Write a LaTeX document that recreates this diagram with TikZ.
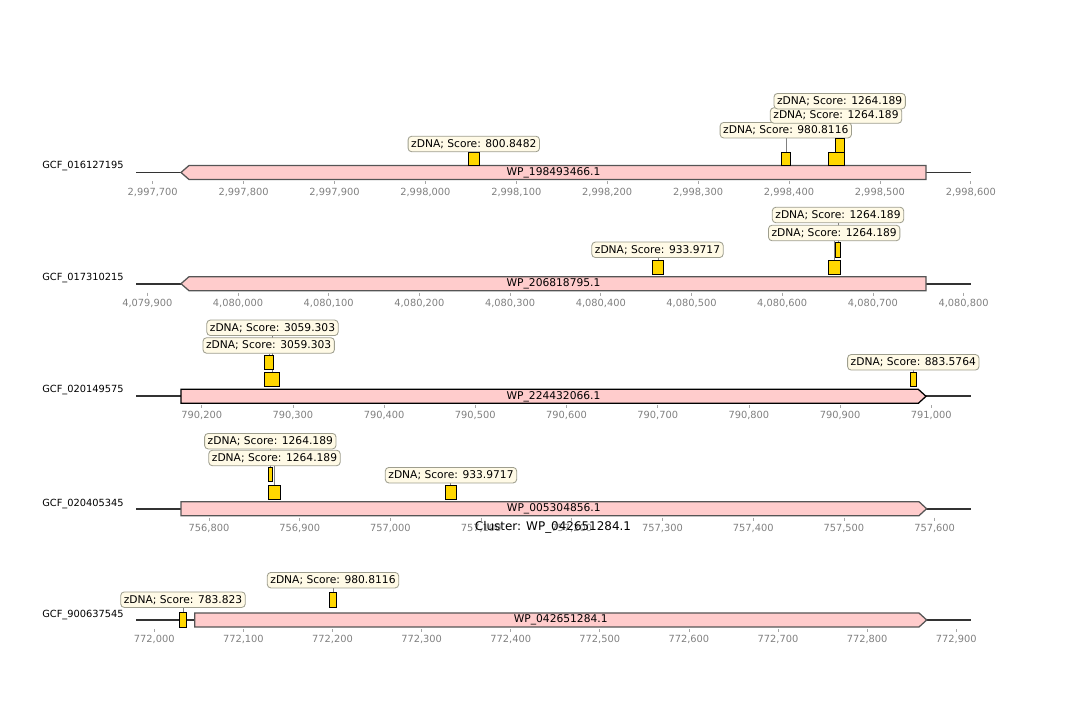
\documentclass[tikz,border=0pt]{standalone}
\usepackage{fontspec}
\setmainfont{DejaVu Sans}
\definecolor{cdsfill}{HTML}{FFCCCC}
\definecolor{cdsedge}{HTML}{555555}
\definecolor{zdnafill}{HTML}{FFD700}
\definecolor{tagfill}{HTML}{FFFAE6}
\definecolor{tagedge}{HTML}{9E9E8E}
\definecolor{axisline}{HTML}{333333}
\definecolor{ticktxt}{HTML}{808080}
\pgfdeclarelayer{bg}
\pgfsetlayers{bg,main}
\tikzset{
  zbox/.style={rectangle, fill=zdnafill, draw=black, line width=0.6pt, inner sep=0pt},
  ztag/.style={rectangle, rounded corners=2.5pt, fill=tagfill, draw=tagedge, line width=0.6pt,
    font=\fontsize{7.6}{9}\selectfont, inner xsep=2.2pt, inner ysep=0pt, minimum height=11pt},
  link/.style={draw=gray, line width=0.4pt},
  cds/.style={fill=cdsfill, draw=#1, line width=0.9pt},
  cdslbl/.style={font=\fontsize{7.6}{9}\selectfont, inner sep=0pt},
  trk/.style={draw=axisline, line width=1.4pt},
  tickmark/.style={draw=ticktxt!70, line width=0.5pt},
  ticklbl/.style={font=\fontsize{7}{8}\selectfont, text=ticktxt, inner sep=0pt},
  seqname/.style={font=\fontsize{7}{8}\selectfont, anchor=west, inner sep=0pt},
}
% gene pointing left: name, tip x, body x, right x, centre y, label
\newcommand{\cdsleft}[7][cdsedge]{
  \draw[cds=#1] (#3,#6) -- (#4,#6-7) -- (#5,#6-7) -- (#5,#6+7) -- (#4,#6+7) -- cycle;
  \node[cdslbl] (#2) at ({(#3+#5)/2},#6) {#7};
}
% gene pointing right: name, left x, body x, tip x, centre y, label
\newcommand{\cdsright}[7][cdsedge]{
  \draw[cds=#1] (#3,#6-7) -- (#4,#6-7) -- (#5,#6) -- (#4,#6+7) -- (#3,#6+7) -- cycle;
  \node[cdslbl] (#2) at ({(#3+#5)/2},#6) {#7};
}
% zDNA feature: name, x1, x2, y1, y2, label x, label y, score
\newcommand{\zdna}[8]{
  \node[zbox, minimum width={(#3-#2)*0.025cm}, minimum height={(#5-#4)*0.025cm}] (#1) at ({(#2+#3)/2},{(#4+#5)/2}) {};
  \node[ztag] (#1l) at (#6,#7) {zDNA; Score: #8};
  \begin{pgfonlayer}{bg}
    \draw[link] (#1.north |- #1l.south) -- (#1.north);
  \end{pgfonlayer}
}
% axis ticks: id, line y, first x, spacing, labels
\newcommand{\axisticks}[5]{
  \foreach \t [count=\i from 0] in {#5} {
    \draw[tickmark] ({#3+\i*#4},#2+9) -- ++(0,3);
    \node[ticklbl] (#1t\i) at ({#3+\i*#4},#2+19.5) {\t};
  }
}

\begin{document}
\begin{tikzpicture}[x=0.025cm, y=-0.025cm]
\useasboundingbox (0,0) rectangle (1080,720);

% ---------------- track 1 ----------------
\draw[trk] (136,172.5) -- (971,172.5);
\node[seqname] (n1) at (42,166.5) {GCF\_016127195};
\cdsleft{g1}{181}{189}{926}{172.5}{WP\_198493466.1}
\zdna{f11}{468.3}{479.3}{152}{165.5}{473.8}{144}{800.8482}
\zdna{f12}{781.3}{790.3}{152}{165.5}{785.8}{130.2}{980.8116}
\zdna{f13}{828}{844}{152}{165.5}{836}{115.5}{1264.189}
\zdna{f14}{835.3}{844}{138}{152}{839.7}{101.2}{1264.189}
\axisticks{a}{172.5}{152.7}{90.9}{{2,997,700},{2,997,800},{2,997,900},{2,998,000},{2,998,100},{2,998,200},{2,998,300},{2,998,400},{2,998,500},{2,998,600}}

% ---------------- track 2 ----------------
\draw[trk] (136,283.7) -- (971,283.7);
\node[seqname] (n2) at (42,278.5) {GCF\_017310215};
\cdsleft{g2}{181}{189}{926}{283.7}{WP\_206818795.1}
\zdna{f21}{652.3}{663.3}{260}{274}{657.5}{249.8}{933.9717}
\zdna{f22}{828.3}{840.3}{260}{274}{834.2}{233}{1264.189}
\zdna{f23}{835.3}{840.3}{242.7}{257}{838}{215}{1264.189}
\axisticks{b}{283.7}{147.3}{90.7}{{4,079,900},{4,080,000},{4,080,100},{4,080,200},{4,080,300},{4,080,400},{4,080,500},{4,080,600},{4,080,700},{4,080,800}}

% ---------------- track 3 ----------------
\draw[trk] (136,396.3) -- (971,396.3);
\node[seqname] (n3) at (42,390.5) {GCF\_020149575};
\cdsright[black]{g3}{181}{918.3}{926}{396.3}{WP\_224432066.1}
\zdna{f31}{264.7}{279.7}{372.3}{386.3}{272.5}{327.8}{3059.303}
\zdna{f32}{264.7}{273.3}{355.7}{369.3}{268.7}{345.5}{3059.303}
\zdna{f33}{910.3}{916.3}{372.3}{386.3}{913.3}{362.3}{883.5764}
\axisticks{c}{396.3}{201.7}{91.2}{{790,200},{790,300},{790,400},{790,500},{790,600},{790,700},{790,800},{790,900},{791,000}}

% ---------------- track 4 ----------------
\draw[trk] (136,508.7) -- (971,508.7);
\node[seqname] (n4) at (42,503.7) {GCF\_020405345};
\cdsright{g4}{181}{919}{926.6}{508.7}{WP\_005304856.1}
\zdna{f41}{268.7}{280.3}{485}{499}{274.5}{458}{1264.189}
\zdna{f42}{268.7}{272.3}{467.7}{481.7}{270.3}{441.2}{1264.189}
\zdna{f43}{445}{456.3}{485}{499}{451}{475.2}{933.9717}
\axisticks{d}{508.7}{209}{90.7}{{756,800},{756,900},{757,000},{757,100},{757,200},{757,300},{757,400},{757,500},{757,600}}

% title sits over track 4 axis
\node[font=\fontsize{8.5}{10}\selectfont, inner sep=0pt] (title) at (553,527) {Cluster: WP\_042651284.1};

% ---------------- track 5 ----------------
\draw[trk] (136,620) -- (971,620);
\node[seqname] (n5) at (42,615) {GCF\_900637545};
\cdsright{g5}{194.7}{919}{926.7}{620}{WP\_042651284.1}
\zdna{f51}{179.3}{186.7}{612.7}{627}{183}{599.7}{783.823}
\zdna{f52}{329}{336.7}{592.7}{607}{333}{580.2}{980.8116}
\axisticks{e}{620}{154.3}{89.1}{{772,000},{772,100},{772,200},{772,300},{772,400},{772,500},{772,600},{772,700},{772,800},{772,900}}
\end{tikzpicture}
\end{document}
